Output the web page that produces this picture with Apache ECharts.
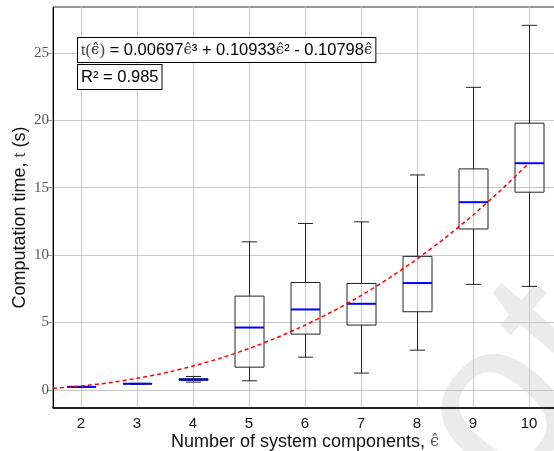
<!DOCTYPE html>
<html style="height: 100%">
<head>
    <meta charset="utf-8">
</head>
<body style="height: 100%; margin: 0; background: #fff">
    <div id="container" style="width: 554px; height: 451px"></div>
    <script type="text/javascript" src="https://cdn.jsdelivr.net/npm/echarts@6/dist/echarts.min.js"></script>
<script type="text/javascript">
    // number of system components
    var categories = ['2', '3', '4', '5', '6', '7', '8', '9', '10'];
    // box statistics (seconds)
    var mins    = [0.19, 0.42, 0.57, 0.67, 2.42, 1.24, 2.94, 7.82, 7.67];
    var q1s     = [0.21, 0.44, 0.70, 1.68, 4.13, 4.80, 5.79, 11.93, 14.66];
    var medians = [0.22, 0.45, 0.76, 4.62, 5.96, 6.38, 7.92, 13.92, 16.81];
    var q3s     = [0.23, 0.46, 0.82, 6.95, 7.96, 7.89, 9.90, 16.39, 19.78];
    var maxs    = [0.25, 0.48, 0.99, 10.98, 12.34, 12.46, 15.94, 22.44, 27.04];
    // red dashed fit curve
    var fitX = [1.5, 2, 2.5, 3, 3.5, 4, 4.5, 5, 5.5, 6, 6.5, 7, 7.5, 8, 8.5, 9, 9.5, 10];
    var fitY = [0.11, 0.28, 0.52, 0.85, 1.26, 1.76, 2.36, 3.06, 3.87, 4.79, 5.83, 6.99, 8.28, 9.70, 11.26, 12.97, 14.82, 16.82];
    var yTicks = [0, 5, 10, 15, 20, 25];
    var xTicks = [2, 3, 4, 5, 6, 7, 8, 9, 10];

    var boxData = [];
    for (var i = 0; i < categories.length; i++) {
        boxData.push([i, mins[i], q1s[i], medians[i], q3s[i], maxs[i]]);
    }
    var fitData = [];
    for (var j = 0; j < fitX.length; j++) {
        fitData.push([fitX[j], fitY[j]]);
    }

    var dom = document.getElementById("container");
    var myChart = echarts.init(dom);
    var sans = '"Liberation Sans", Arial, sans-serif';
    var serif = '"Liberation Serif", "DejaVu Serif", serif';
    var eps = 'ϵ\u0302';

    function renderBox(params, api) {
        var x = api.value(0);
        var pMin = api.coord([x, api.value(1)]);
        var pQ1 = api.coord([x, api.value(2)]);
        var pMed = api.coord([x, api.value(3)]);
        var pQ3 = api.coord([x, api.value(4)]);
        var pMax = api.coord([x, api.value(5)]);
        var cx = Math.round(pMin[0]) + 0.5;
        var bw = 29, cw = 15;
        var ln = {stroke: '#222', lineWidth: 1};
        return {
            type: 'group',
            children: [
                {type: 'line', shape: {x1: cx, y1: pMax[1], x2: cx, y2: pQ3[1]}, style: ln},
                {type: 'line', shape: {x1: cx, y1: pQ1[1], x2: cx, y2: pMin[1]}, style: ln},
                {type: 'line', shape: {x1: cx - cw / 2, y1: pMax[1], x2: cx + cw / 2, y2: pMax[1]}, style: ln},
                {type: 'line', shape: {x1: cx - cw / 2, y1: pMin[1], x2: cx + cw / 2, y2: pMin[1]}, style: ln},
                {type: 'rect', shape: {x: cx - bw / 2, y: pQ3[1], width: bw, height: pQ1[1] - pQ3[1]},
                    style: {fill: 'none', stroke: '#222', lineWidth: 1}},
                {type: 'line', shape: {x1: cx - bw / 2, y1: pMed[1], x2: cx + bw / 2, y2: pMed[1]},
                    style: {stroke: '#0000ff', lineWidth: 2}}
            ]
        };
    }

    myChart.setOption({
        animation: false,
        backgroundColor: '#fff',
        grid: {
            left: 53, right: -3, top: 7, bottom: 43,
            outerBoundsMode: 'none',
            show: true, borderColor: '#333', borderWidth: 1
        },
        graphic: [
            {
                type: 'text', x: 512, y: 423, rotation: 0.87, z: -10, silent: true,
                style: {text: 'ot', x: -62, y: -15, font: '225px "Liberation Sans"', fill: '#ebebeb',
                    textAlign: 'left', textVerticalAlign: 'middle'}
            },
            {
                type: 'text', left: 77, top: 37, z: 100,
                style: {
                    text: '{s|t(}{e|' + eps + '}{s|)} = 0.00697{e|' + eps + '}³ + 0.10933{e|' + eps + '}² - 0.10798{e|' + eps + '}',
                    font: '16.5px ' + sans, fill: '#000',
                    backgroundColor: '#fff', borderColor: '#000', borderWidth: 1, padding: [4, 3, 3, 3],
                    rich: {
                        s: {fontFamily: serif, fontSize: 16.5, fill: '#444'},
                        e: {fontFamily: '"DejaVu Serif", serif', fontSize: 15, fill: '#333'}
                    }
                }
            },
            {
                type: 'text', left: 77, top: 64, z: 100,
                style: {
                    text: 'R² = 0.985', font: '16.5px ' + sans, fill: '#000',
                    backgroundColor: '#fff', borderColor: '#000', borderWidth: 1, padding: [4, 3, 3, 3]
                }
            }
        ],
        xAxis: [
            {
                type: 'category',
                data: categories,
                boundaryGap: true,
                name: 'Number of system components, {e|' + eps + '}',
                nameLocation: 'middle',
                nameGap: 25,
                nameMoveOverlap: false,
                nameTextStyle: {fontFamily: sans, fontSize: 18, color: '#111',
                    rich: {e: {fontFamily: '"DejaVu Serif", serif', fontSize: 16, color: '#555'}}},
                axisLine: {onZero: false, lineStyle: {color: '#000', width: 1.5}},
                axisTick: {show: false},
                axisLabel: {color: '#111', fontFamily: sans, fontSize: 15, margin: 8},
                splitLine: {show: false}
            },
            {
                type: 'value',
                min: 1.5, max: 10.5,
                position: 'bottom',
                axisLine: {show: false},
                axisTick: {show: false, customValues: xTicks},
                axisLabel: {show: false, customValues: xTicks},
                splitLine: {lineStyle: {color: '#c8c8c8', width: 1}}
            }
        ],
        yAxis: {
            type: 'value',
            min: -1.35, max: 28.4,
            name: 'Computation time, {t|t} (s)',
            nameLocation: 'middle',
            nameGap: 24,
            nameMoveOverlap: false,
            nameTextStyle: {fontFamily: sans, fontSize: 18, color: '#111', padding: [0, 20, 0, 0],
                rich: {t: {fontFamily: serif, fontSize: 18, color: '#444'}}},
            axisLine: {show: true, lineStyle: {color: '#000', width: 1}},
            axisTick: {length: 5, lineStyle: {color: '#999'}, customValues: yTicks},
            axisLabel: {color: '#555', fontFamily: serif, fontSize: 15, margin: 4, customValues: yTicks},
            splitLine: {lineStyle: {color: '#c8c8c8', width: 1}}
        },
        series: [
            {
                type: 'custom',
                xAxisIndex: 0,
                renderItem: renderBox,
                data: boxData,
                encode: {x: 0, y: [1, 2, 3, 4, 5]},
                z: 3
            },
            {
                type: 'line',
                xAxisIndex: 1,
                data: fitData,
                showSymbol: false,
                smooth: 0.2,
                lineStyle: {color: '#ff0000', width: 1.5, type: [4, 3]},
                z: 5
            }
        ]
    });
</script>
</body>
</html>
